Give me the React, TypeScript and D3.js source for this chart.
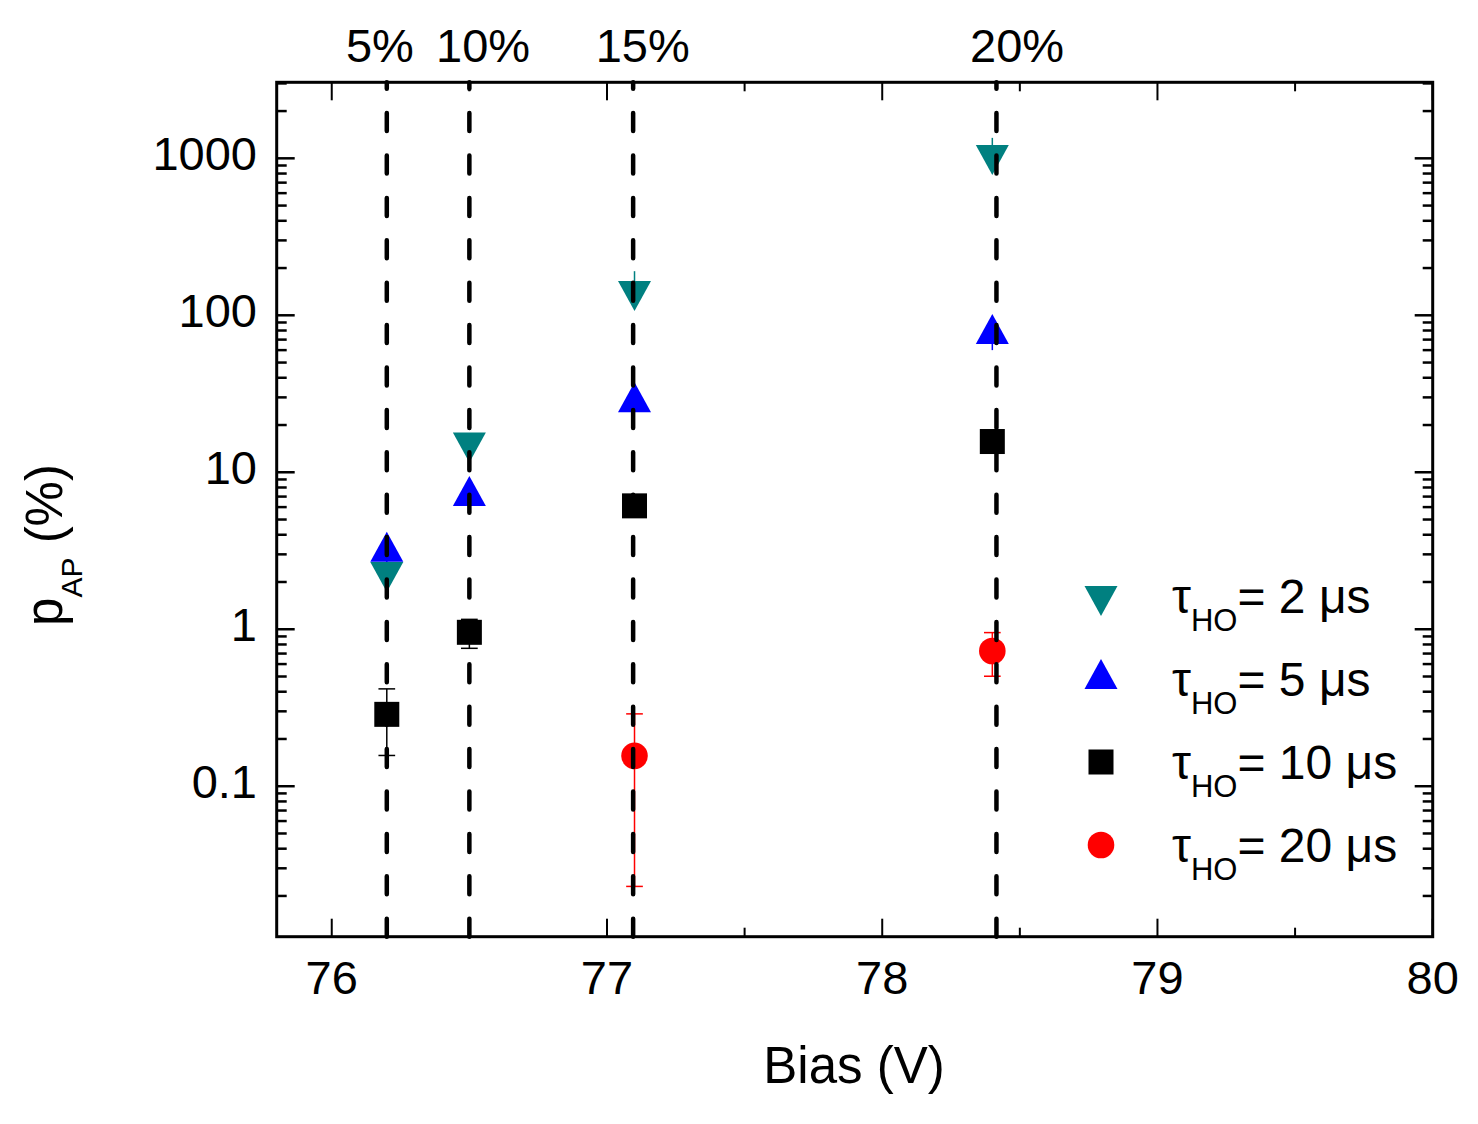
import { useEffect } from "react";
import * as d3 from "d3";

// Bias values (V) at which p_AP was measured
const bias = [76.2, 76.5, 77.1, 78.4];

// tau_HO = 2 us (teal, down triangles)
const tau2 = [2.32, 15.5, 143, 1050];
const tau2ErrUp = [0.3, 2, 48, 300];

// tau_HO = 5 us (blue, up triangles)
const tau5 = [3.12, 7.06, 27.9, 76];
const tau5ErrDown = [0.67, 0.5, 2, 16];

// tau_HO = 10 us (black squares)
const tau10 = [0.287, 0.956, 6.11, 15.7];
const tau10Err = [0.13, 0.2, 0.5, 1.0];

// tau_HO = 20 us (red circles), only two biases
const bias20 = [77.1, 78.4];
const tau20 = [0.156, 0.727];
const tau20Err = [0.133, 0.225];

// overvoltage markers
const ovBias = [76.2, 76.5, 77.095, 78.415];
const ovLabels = ["5%", "10%", "15%", "20%"];
const ovLabelX = [76.175, 76.55, 77.13, 78.49];

const xTicks = [76, 77, 78, 79, 80];
const xMinor = [76.5, 77.5, 78.5, 79.5];
const yTicks = [0.1, 1, 10, 100, 1000];
const yTickLabels = ["0.1", "1", "10", "100", "1000"];

const legendItems = [
  { sym: "down", color: "#008080", val: "2" },
  { sym: "up", color: "#0000ff", val: "5" },
  { sym: "square", color: "#000000", val: "10" },
  { sym: "circle", color: "#ff0000", val: "20" },
];

const W = 1478;
const H = 1124;
const L = 276.7;
const R = 1432.7;
const T = 82.3;
const B = 936.7;
const FONT = "'Liberation Sans', Arial, Helvetica, sans-serif";

const x = d3.scaleLinear().domain([75.8, 80]).range([L, R]);
const y = d3.scaleLog().domain([0.011, 3050]).range([B, T]);

const yMinor: number[] = [];
for (let e = -2; e <= 3; e++) {
  for (let m = 2; m <= 9; m++) {
    const v = m * Math.pow(10, e);
    if (v > 0.011 && v < 3050) yMinor.push(v);
  }
}

const triH = 30;
const triW = 33;
const sq = 25;
const circR = 13.3;

function Marker({ sym, cx, cy, color }: { sym: string; cx: number; cy: number; color: string }) {
  if (sym === "up") {
    // centroid at (cx, cy)
    const top = cy - (2 * triH) / 3;
    const bot = cy + triH / 3;
    return <polygon points={`${cx},${top} ${cx + triW / 2},${bot} ${cx - triW / 2},${bot}`} fill={color} />;
  }
  if (sym === "down") {
    const top = cy - triH / 3;
    const bot = cy + (2 * triH) / 3;
    return <polygon points={`${cx - triW / 2},${top} ${cx + triW / 2},${top} ${cx},${bot}`} fill={color} />;
  }
  if (sym === "square") {
    return <rect x={cx - sq / 2} y={cy - sq / 2} width={sq} height={sq} fill={color} />;
  }
  return <circle cx={cx} cy={cy} r={circR} fill={color} />;
}

function ErrBar({ xv, lo, hi, color, cap }: { xv: number; lo: number; hi: number; color: string; cap: number }) {
  const px = x(xv);
  const y1 = y(Math.max(lo, 0.0111));
  const y2 = y(hi);
  return (
    <g stroke={color} strokeWidth={1.5}>
      <line x1={px} x2={px} y1={y1} y2={y2} />
      {cap > 0 && <line x1={px - cap / 2} x2={px + cap / 2} y1={y2} y2={y2} />}
      {cap > 0 && lo > 0.0111 && <line x1={px - cap / 2} x2={px + cap / 2} y1={y1} y2={y1} />}
    </g>
  );
}

const App = () => {
  useEffect(() => {
    document.body.style.margin = "0";
  }, []);

  return (
    <svg width={W} height={H} viewBox={`0 0 ${W} ${H}`} style={{ display: "block", background: "#fff" }} fontFamily={FONT}>
      <rect width={W} height={H} fill="#fff" />

      {/* error bars */}
      {bias.map((b, i) => (
        <ErrBar key={"e2" + i} xv={b} lo={tau2[i]} hi={tau2[i] + tau2ErrUp[i]} color="#008080" cap={0} />
      ))}
      {bias.map((b, i) => (
        <ErrBar key={"e5" + i} xv={b} lo={tau5[i] - tau5ErrDown[i]} hi={tau5[i]} color="#0000ff" cap={0} />
      ))}
      {bias.map((b, i) => (
        <ErrBar key={"e10" + i} xv={b} lo={tau10[i] - tau10Err[i]} hi={tau10[i] + tau10Err[i]} color="#000" cap={16.7} />
      ))}
      {bias20.map((b, i) => (
        <ErrBar key={"e20" + i} xv={b} lo={tau20[i] - tau20Err[i]} hi={tau20[i] + tau20Err[i]} color="#ff0000" cap={16.7} />
      ))}

      {/* markers */}
      {bias.map((b, i) => (
        <Marker key={"m2" + i} sym="down" cx={x(b)} cy={y(tau2[i])} color="#008080" />
      ))}
      {bias.map((b, i) => (
        <Marker key={"m5" + i} sym="up" cx={x(b)} cy={y(tau5[i])} color="#0000ff" />
      ))}
      {bias.map((b, i) => (
        <Marker key={"m10" + i} sym="square" cx={x(b)} cy={y(tau10[i])} color="#000" />
      ))}
      {bias20.map((b, i) => (
        <Marker key={"m20" + i} sym="circle" cx={x(b)} cy={y(tau20[i])} color="#ff0000" />
      ))}

      {/* dashed overvoltage lines */}
      {ovBias.map((b, i) => (
        <line
          key={"ov" + i}
          x1={x(b)}
          x2={x(b)}
          y1={B}
          y2={T}
          stroke="#000"
          strokeWidth={4.5}
          strokeDasharray="18 24.4"
          strokeLinecap="round"
        />
      ))}
      {ovLabels.map((t, i) => (
        <text key={"ovl" + i} x={x(ovLabelX[i])} y={62} fontSize={47} textAnchor="middle">
          {t}
        </text>
      ))}

      {/* frame */}
      <rect x={L} y={T} width={R - L} height={B - T} fill="none" stroke="#000" strokeWidth={3} />

      {/* x ticks */}
      <g stroke="#000" strokeWidth={2}>
        {xTicks.map((t) => (
          <g key={"xt" + t}>
            <line x1={x(t)} x2={x(t)} y1={B} y2={B - 18} />
            <line x1={x(t)} x2={x(t)} y1={T} y2={T + 18} />
          </g>
        ))}
        {xMinor.map((t) => (
          <g key={"xm" + t}>
            <line x1={x(t)} x2={x(t)} y1={B} y2={B - 9} />
            <line x1={x(t)} x2={x(t)} y1={T} y2={T + 9} />
          </g>
        ))}
      </g>
      {xTicks.map((t) => (
        <text key={"xl" + t} x={x(t)} y={994} fontSize={47} textAnchor="middle">
          {t}
        </text>
      ))}

      {/* y ticks */}
      <g stroke="#000" strokeWidth={2.5}>
        {yTicks.map((t) => (
          <g key={"yt" + t}>
            <line x1={L} x2={L + 18} y1={y(t)} y2={y(t)} />
            <line x1={R} x2={R - 18} y1={y(t)} y2={y(t)} />
          </g>
        ))}
        {yMinor.map((t) => (
          <g key={"ym" + t}>
            <line x1={L} x2={L + 10} y1={y(t)} y2={y(t)} />
            <line x1={R} x2={R - 10} y1={y(t)} y2={y(t)} />
          </g>
        ))}
      </g>
      {yTicks.map((t, i) => (
        <text key={"yl" + t} x={257} y={y(t) + 12} fontSize={47} textAnchor="end">
          {yTickLabels[i]}
        </text>
      ))}

      {/* axis titles */}
      <text x={854} y={1083} fontSize={51} textAnchor="middle">
        Bias (V)
      </text>
      <text transform="translate(62,545) rotate(-90)" fontSize={51} textAnchor="middle">
        p
        <tspan fontSize={30} dy={20}>
          AP
        </tspan>
        <tspan dy={-20}> (%)</tspan>
      </text>

      {/* legend */}
      {legendItems.map((it, i) => {
        const cy = 596 + i * 83;
        return (
          <g key={"lg" + i}>
            <Marker sym={it.sym} cx={1101} cy={cy} color={it.color} />
            <text x={1172} y={cy + 17} fontSize={48}>
              τ
              <tspan fontSize={31} dy={18}>
                HO
              </tspan>
              <tspan dy={-18}>= {it.val} μs</tspan>
            </text>
          </g>
        );
      })}
    </svg>
  );
};

export default App;
